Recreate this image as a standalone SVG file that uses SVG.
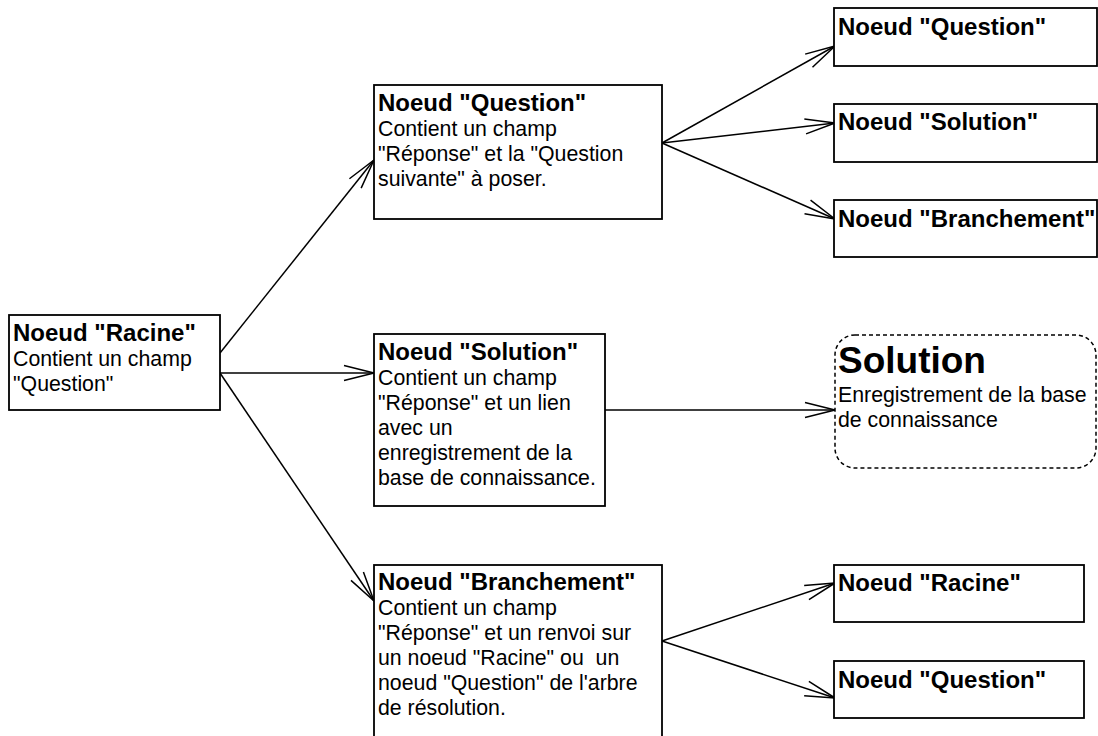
<svg xmlns="http://www.w3.org/2000/svg" width="1098" height="736" viewBox="0 0 1098 736">
<style>
.box{fill:#fff;stroke:#000;stroke-width:1.8}
.dash{fill:#fff;stroke:#000;stroke-width:1.5;stroke-dasharray:4,3}
.t{font-family:"Liberation Sans",Arial,sans-serif;font-size:21.3px;fill:#000;white-space:pre}
.b{font-family:"Liberation Sans",Arial,sans-serif;font-size:24px;font-weight:bold;fill:#000}
.big{font-family:"Liberation Sans",Arial,sans-serif;font-size:37px;font-weight:bold;fill:#000}
.c line{stroke:#000;stroke-width:1.5;marker-end:url(#arr)}
</style>
<defs>
<marker id="arr" markerUnits="userSpaceOnUse" viewBox="-32 -10 34 20" markerWidth="34" markerHeight="20" refX="0" refY="0" orient="auto" overflow="visible">
<path d="M-30,-7.5 L0,0 L-30,7.5" fill="none" stroke="#000" stroke-width="1.5"/>
</marker>
</defs>
<rect width="1098" height="736" fill="#fff"/>

<g class="c" id="connectors">
<line x1="220" y1="353" x2="374" y2="160"/>
<line x1="220" y1="373" x2="374" y2="373"/>
<line x1="220" y1="373" x2="374" y2="601"/>
<line x1="662" y1="143" x2="835" y2="46"/>
<line x1="662" y1="143" x2="835" y2="123"/>
<line x1="662" y1="143" x2="835" y2="219"/>
<line x1="605" y1="410" x2="835" y2="410"/>
<line x1="662" y1="641" x2="835" y2="583"/>
<line x1="662" y1="641" x2="835" y2="698"/>
</g>

<g id="racine">
<rect class="box" x="9" y="315" width="211" height="95"/>
<text class="b" x="13" y="341">Noeud "Racine"</text>
<text class="t" x="13" y="366">Contient un champ</text>
<text class="t" x="13" y="391">"Question"</text>
</g>

<g id="question">
<rect class="box" x="374" y="85" width="288" height="134"/>
<text class="b" x="378" y="111">Noeud "Question"</text>
<text class="t" x="378" y="136">Contient un champ</text>
<text class="t" x="378" y="161">"Réponse" et la "Question</text>
<text class="t" x="378" y="186">suivante" à poser.</text>
</g>

<g id="solution">
<rect class="box" x="374" y="334" width="231" height="172"/>
<text class="b" x="378" y="360">Noeud "Solution"</text>
<text class="t" x="378" y="385">Contient un champ</text>
<text class="t" x="378" y="410">"Réponse" et un lien</text>
<text class="t" x="378" y="435">avec un</text>
<text class="t" x="378" y="460">enregistrement de la</text>
<text class="t" x="378" y="485">base de connaissance.</text>
</g>

<g id="branchement">
<rect class="box" x="374" y="565" width="288" height="180"/>
<text class="b" x="378" y="590">Noeud "Branchement"</text>
<text class="t" x="378" y="615">Contient un champ</text>
<text class="t" x="378" y="640">"Réponse" et un renvoi sur</text>
<text class="t" x="378" y="665">un noeud "Racine" ou  un</text>
<text class="t" x="378" y="690">noeud "Question" de l'arbre</text>
<text class="t" x="378" y="715">de résolution.</text>
</g>

<g id="q-question">
<rect class="box" x="834" y="8" width="263" height="58"/>
<text class="b" x="838" y="35">Noeud "Question"</text>
</g>

<g id="q-solution">
<rect class="box" x="834" y="104" width="263" height="58"/>
<text class="b" x="838" y="130">Noeud "Solution"</text>
</g>

<g id="q-branchement">
<rect class="box" x="834" y="200" width="263" height="57"/>
<text class="b" x="838" y="227">Noeud "Branchement"</text>
</g>

<g id="solution-record">
<rect class="dash" x="835" y="335" width="261" height="133" rx="20" ry="20"/>
<text class="big" x="838" y="373">Solution</text>
<text class="t" x="838" y="402">Enregistrement de la base</text>
<text class="t" x="838" y="427">de connaissance</text>
</g>

<g id="b-racine">
<rect class="box" x="834" y="565" width="250" height="57"/>
<text class="b" x="838" y="591">Noeud "Racine"</text>
</g>

<g id="b-question">
<rect class="box" x="834" y="661" width="250" height="57"/>
<text class="b" x="838" y="688">Noeud "Question"</text>
</g>
</svg>
